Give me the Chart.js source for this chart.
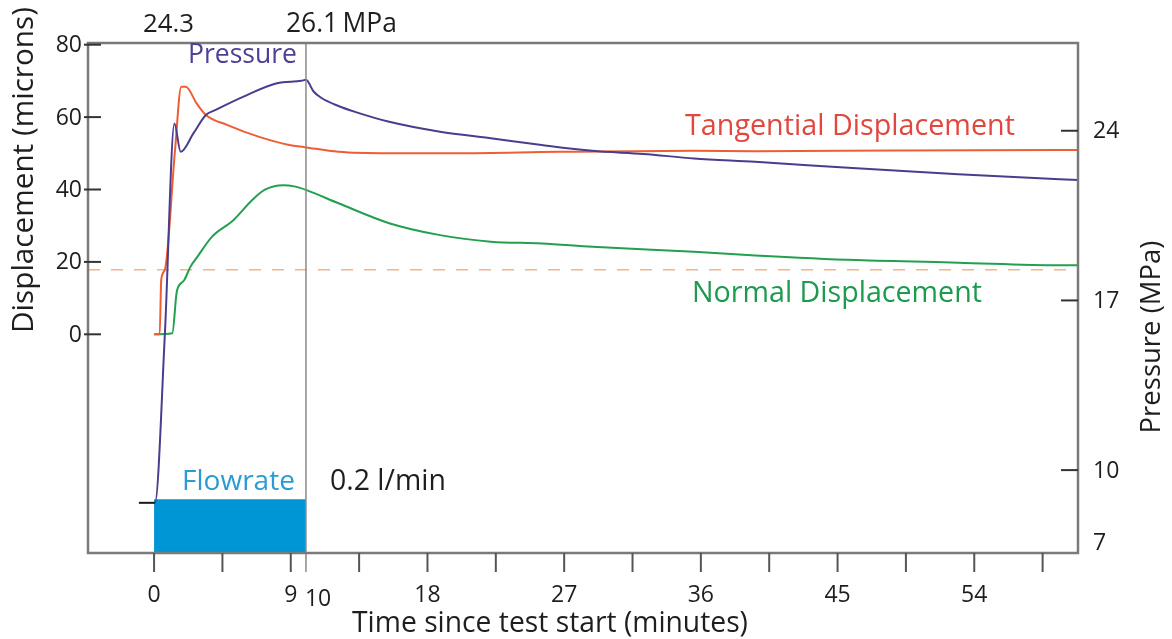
<!DOCTYPE html>
<html>
<head>
<meta charset="utf-8">
<script src="https://cdn.jsdelivr.net/npm/chart.js@4.4.1/dist/chart.umd.min.js"></script>
<style>
  html, body { margin: 0; padding: 0; background: #ffffff; }
  #wrap { width: 1172px; height: 639px; }
</style>
</head>
<body>
<div id="wrap"><canvas id="chart" width="1172" height="639"></canvas></div>
<script>
// ---- Test record: time in minutes since test start ----
const pressureTime = [-1, 0.06, 0.71, 1.34, 1.75, 2.6, 3.41, 4.02, 5.85, 8.09, 9.7, 10, 10.5, 11.0, 12.14, 13.28, 15.48, 18.83, 22.17, 25.52, 28.86, 32.21, 35.55, 39.57, 46.25, 52.94, 59.63, 60.84];
const pressureMPa  = [8.65, 8.65, 15.6, 24.3, 23.13, 23.9, 24.65, 24.85, 25.4, 25.96, 26.06, 26.1, 25.62, 25.36, 25.02, 24.77, 24.37, 23.96, 23.69, 23.41, 23.17, 23.04, 22.86, 22.72, 22.45, 22.21, 22.0, 21.97];

const tangentialTime    = [0, 0.37, 0.47, 0.71, 1.38, 1.79, 2.09, 2.8, 3.41, 4.84, 6.87, 8.9, 9.92, 12.14, 15.48, 19.95, 26.63, 35.55, 39.57, 49, 59.63, 60.84];
const tangentialMicrons = [0, 0, 15, 17.8, 50.9, 68.4, 68.4, 63.8, 60.6, 57.8, 54.6, 52.3, 51.7, 50.4, 50.0, 50.0, 50.4, 50.7, 50.6, 50.8, 50.9, 50.9];

const normalTime    = [0, 1.2, 1.48, 1.59, 1.99, 2.4, 2.8, 3.82, 5.24, 6.46, 7.27, 8.49, 9.31, 10, 12.14, 15.48, 18.83, 22.17, 25.52, 28.86, 35.55, 39.57, 46.25, 52.94, 59.63, 60.84];
const normalMicrons = [0, 0.3, 11.4, 13.1, 15.0, 18.7, 21.1, 27.0, 31.6, 37.1, 39.9, 41.2, 40.8, 39.9, 36.2, 30.7, 27.4, 25.6, 25.1, 24.2, 22.8, 21.8, 20.5, 19.8, 19.1, 19.1];

const flowTime = [0, 10];
const flowRate = [0.2, 0.2];          // l/min
const shutInTime = 10;                // pump stopped
const referenceLevel = 17.8;          // microns, dashed level
const spikePressure = 24.3;
const spikeTime = 1.34;
const peakPressure = 26.1;

// ---- Axis ranges and ticks ----
const timeMin = -4.35, timeMax = 60.83;
const dispMin = -60.41, dispMax = 80.47;
const pressMin = 6.58, pressMax = 27.62;
const flowMin = 0, flowMax = 1.9;

const timeTicks = [0, 4.5, 9, 13.5, 18, 22.5, 27, 31.5, 36, 40.5, 45, 49.5, 54, 58.5];
const timeTickLabels = [0, 9, 18, 27, 36, 45, 54];
const displacementTicks = [0, 20, 40, 60, 80];
const pressureTicks = [7, 10, 17, 24];

const FONT = '"Open Sans", "Noto Sans", sans-serif';

function toPoints(xs, ys) { return xs.map((x, i) => ({ x: x, y: ys[i] })); }

// Draw a text string scaled so that it spans the requested width
function fittedText(ctx, text, x, y, width, color, align, baseline, angle) {
  ctx.save();
  ctx.font = '40px ' + FONT;
  const w = ctx.measureText(text).width;
  const size = 40 * width / w;
  ctx.font = size.toFixed(2) + 'px ' + FONT;
  ctx.fillStyle = color;
  ctx.textAlign = align || 'left';
  ctx.textBaseline = baseline || 'alphabetic';
  ctx.translate(x, y);
  if (angle) ctx.rotate(angle);
  ctx.fillText(text, 0, 0);
  ctx.restore();
}

const axesAndNotes = {
  id: 'axesAndNotes',
  afterDatasetsDraw(chart) {
    const { ctx, chartArea: a, scales } = chart;
    const xs = scales.x.getPixelForValue(shutInTime);
    ctx.save();
    ctx.strokeStyle = '#8a8a8a';
    ctx.lineWidth = 1.5;
    ctx.beginPath();
    ctx.moveTo(xs, a.top);
    ctx.lineTo(xs, a.bottom + 19);
    ctx.stroke();
    ctx.restore();
  },
  afterDraw(chart) {
    const { ctx, chartArea: a, scales } = chart;
    const sx = scales.x, sd = scales.yDisp, sp = scales.yPress;
    ctx.save();

    // frame
    ctx.strokeStyle = '#7a7a7a';
    ctx.lineWidth = 2.5;
    ctx.strokeRect(a.left, a.top, a.right - a.left, a.bottom - a.top);

    ctx.font = '23px ' + FONT;
    ctx.fillStyle = '#1e1e1e';

    // displacement axis (left)
    ctx.strokeStyle = '#333333';
    ctx.lineWidth = 2;
    ctx.textAlign = 'right';
    ctx.textBaseline = 'middle';
    displacementTicks.forEach(v => {
      const y = sd.getPixelForValue(v);
      ctx.beginPath();
      ctx.moveTo(a.left - 4, y);
      ctx.lineTo(a.left + 13, y);
      ctx.stroke();
      ctx.fillText(String(v), a.left - 6, y + 1);
    });

    // pressure axis (right)
    ctx.textAlign = 'left';
    pressureTicks.forEach(v => {
      const y = sp.getPixelForValue(v);
      if (a.bottom - y > 15) {
        ctx.beginPath();
        ctx.moveTo(a.right - 17, y);
        ctx.lineTo(a.right, y);
        ctx.stroke();
      }
      ctx.fillText(String(v), a.right + 15, y + 1);
    });

    // time axis (bottom)
    ctx.strokeStyle = '#555555';
    ctx.textAlign = 'center';
    ctx.textBaseline = 'alphabetic';
    timeTicks.forEach(v => {
      const x = sx.getPixelForValue(v);
      ctx.beginPath();
      ctx.moveTo(x, a.bottom);
      ctx.lineTo(x, a.bottom + 19);
      ctx.stroke();
    });
    timeTickLabels.forEach(v => {
      ctx.fillText(String(v), sx.getPixelForValue(v), 602);
    });
    const xs = sx.getPixelForValue(shutInTime);
    ctx.textAlign = 'left';
    ctx.fillText(String(shutInTime), xs - 1, 606);
    ctx.restore();

    // axis titles
    fittedText(ctx, 'Time since test start (minutes)', 550, 632, 396, '#1e1e1e', 'center');
    fittedText(ctx, 'Displacement (microns)', 33, 170, 326, '#1e1e1e', 'center', 'alphabetic', -Math.PI / 2);
    fittedText(ctx, 'Pressure (MPa)', 1160, 337, 193, '#1e1e1e', 'center', 'alphabetic', -Math.PI / 2);

    // pressure call-outs above the frame
    const spikeX = sx.getPixelForValue(spikeTime);
    fittedText(ctx, String(spikePressure), spikeX - 6, 32, 51, '#1e1e1e', 'center');
    fittedText(ctx, peakPressure.toFixed(1) + '\u2009MPa', xs - 20, 32, 111, '#1e1e1e', 'left');

    // series names
    fittedText(ctx, 'Pressure', 188, 63, 109, '#4d4098', 'left');
    fittedText(ctx, 'Tangential Displacement', 685, 135, 330, '#e2473f', 'left');
    fittedText(ctx, 'Normal Displacement', 692, 302, 290, '#1d9a4f', 'left');
    fittedText(ctx, 'Flowrate', 182, 490, 113, '#2b9bd4', 'left');
    fittedText(ctx, flowRate[0] + ' l/min', xs + 24, 490, 116, '#1e1e1e', 'left');
  }
};

new Chart(document.getElementById('chart'), {
  type: 'line',
  data: {
    datasets: [
      {
        label: 'Pressure',
        data: toPoints(pressureTime, pressureMPa),
        yAxisID: 'yPress',
        borderColor: '#4a3d8f',
        borderWidth: 2,
        cubicInterpolationMode: 'monotone',
        segment: { borderColor: c => c.p0DataIndex === 0 ? '#1a1a1a' : undefined },
        order: 1
      },
      {
        label: 'Tangential Displacement',
        data: toPoints(tangentialTime, tangentialMicrons),
        yAxisID: 'yDisp',
        borderColor: '#ef5d33',
        borderWidth: 2,
        cubicInterpolationMode: 'monotone',
        order: 2
      },
      {
        label: 'Normal Displacement',
        data: toPoints(normalTime, normalMicrons),
        yAxisID: 'yDisp',
        borderColor: '#22a050',
        borderWidth: 2,
        cubicInterpolationMode: 'monotone',
        order: 3
      },
      {
        label: 'Reference level',
        data: [{ x: timeMin, y: referenceLevel }, { x: timeMax, y: referenceLevel }],
        yAxisID: 'yDisp',
        borderColor: '#f2b48c',
        borderWidth: 1.5,
        borderDash: [12, 11],
        order: 4
      },
      {
        label: 'Flowrate',
        data: toPoints(flowTime, flowRate),
        yAxisID: 'yFlow',
        borderWidth: 0,
        borderColor: '#0096d6',
        backgroundColor: '#0096d6',
        fill: 'origin',
        order: 5
      }
    ]
  },
  options: {
    responsive: false,
    animation: false,
    devicePixelRatio: 1,
    layout: { padding: { left: 88, right: 94, top: 43, bottom: 86 } },
    elements: { point: { radius: 0 }, line: { tension: 0 } },
    plugins: { legend: { display: false }, tooltip: { enabled: false } },
    scales: {
      x: { type: 'linear', min: timeMin, max: timeMax, display: false },
      yDisp: { type: 'linear', position: 'left', min: dispMin, max: dispMax, display: false },
      yPress: { type: 'linear', position: 'right', min: pressMin, max: pressMax, display: false },
      yFlow: { type: 'linear', position: 'right', min: flowMin, max: flowMax, display: false }
    }
  },
  plugins: [axesAndNotes]
});
</script>
</body>
</html>
